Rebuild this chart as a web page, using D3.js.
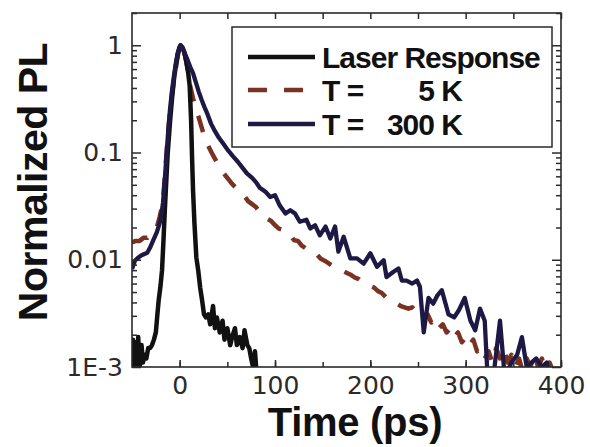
<!DOCTYPE html>
<html>
<head>
<meta charset="utf-8">
<script src="https://cdn.jsdelivr.net/npm/d3@7"></script>
<style>
  html, body { margin: 0; padding: 0; background: #fff; }
  svg { display: block; }
</style>
</head>
<body>
<svg id="chart" width="590" height="447"></svg>
<script>
// ---- tick labels ----
const xTickValues = [0, 100, 200, 300, 400];
const xMinorTicks = [0, 50, 100, 150, 200, 250, 300, 350, 400];
const yTickValues = [1, 0.1, 0.01, 0.001];
const yTickLabels = ["1", "0.1", "0.01", "1E-3"];

// ---- legend ----
const legendNames = ["Laser Response", "T =", "T ="];
const legendTemps = ["", "5 K", "300 K"];

// ---- laser response (instrument function) ----
const laserTime = [-50, -49, -48, -46.5, -45, -43.5, -42, -40, -38.5, -37, -35, -33, -31, -29, -27, -25,
  -23.5, -22, -20, -18.5, -17, -15.5, -14, -12.5, -10, -8, -6, -4, -2, 0, 1, 3, 5, 7, 9, 10.5, 12, 13,
  14, 15.5, 17.5, 19.5, 21.5, 23.5, 25.5, 27.5, 30, 32, 35, 37, 39, 42, 45, 47, 50, 53, 55, 58, 60,
  63, 66, 68, 71, 73, 75, 77, 79, 81];
const laserPL = [0.0009, 0.0018, 0.0009, 0.0017, 0.0009, 0.0019, 0.001, 0.0016, 0.0011, 0.0013, 0.0012,
  0.0015, 0.0015, 0.0016, 0.0018, 0.0021, 0.003, 0.0042, 0.0058, 0.008, 0.015, 0.03, 0.055, 0.1, 0.2,
  0.32, 0.48, 0.65, 0.83, 0.96, 1.0, 0.95, 0.85, 0.7, 0.55, 0.42, 0.2, 0.09, 0.045, 0.022, 0.0105,
  0.0079, 0.0055, 0.0042, 0.0031, 0.0029, 0.0031, 0.0025, 0.0037, 0.0023, 0.0029, 0.0021, 0.0027,
  0.0018, 0.0023, 0.0016, 0.0019, 0.0023, 0.0016, 0.0019, 0.0015, 0.0022, 0.0016, 0.0015, 0.0012,
  0.001, 0.0014, 0.0008];

// ---- T = 5 K ----
const lowTTime = [-50, -46, -42, -38, -34, -30, -27, -24, -21, -19, -17, -15, -12, -9, -6, -3, -1, 1, 3,
  6, 9, 11, 14, 19.5, 25, 30, 34, 40, 45, 50, 55, 60, 64, 68, 72, 76, 80, 84, 88, 92, 96, 100, 104,
  108, 112, 116, 120, 124, 128, 132, 136, 140, 144, 148, 152, 156, 160, 164, 168, 172, 176, 180, 184,
  188, 192, 196, 200, 204, 208, 212, 216, 220, 224, 228, 232, 236, 240, 244, 248, 252, 256, 260, 264,
  268, 272, 276, 280, 284, 288, 292, 296, 300, 304, 308, 312, 316, 320, 324, 328, 332, 336, 340, 344,
  348, 352, 356, 360, 364, 368, 372, 376, 380, 384, 388, 392];
const lowTPL = [0.0145, 0.015, 0.015, 0.016, 0.016, 0.0175, 0.019, 0.02, 0.025, 0.03, 0.04, 0.07, 0.16,
  0.3, 0.48, 0.7, 0.9, 1.0, 0.95, 0.78, 0.56, 0.42, 0.32, 0.22, 0.15, 0.115, 0.098, 0.078, 0.066, 0.058,
  0.051, 0.046, 0.041, 0.039, 0.035, 0.033, 0.031, 0.028, 0.027, 0.024, 0.023, 0.021, 0.0195, 0.019,
  0.0172, 0.017, 0.0152, 0.015, 0.0136, 0.0128, 0.0124, 0.0113, 0.0112, 0.0102, 0.0098, 0.0093, 0.0088,
  0.0086, 0.0081, 0.0078, 0.0075, 0.0072, 0.0068, 0.0066, 0.0062, 0.0061, 0.0057, 0.0055, 0.0051,
  0.0049, 0.0045, 0.0043, 0.004, 0.0039, 0.0037, 0.0036, 0.0035, 0.0036, 0.0033, 0.0033, 0.0028,
  0.0031, 0.0026, 0.0028, 0.0023, 0.0025, 0.0021, 0.0023, 0.0019, 0.0021, 0.0017, 0.0019, 0.0016,
  0.0018, 0.0014, 0.0015, 0.0012, 0.0014, 0.0011, 0.0015, 0.0012, 0.0015, 0.0011, 0.0013, 0.001,
  0.0012, 0.0009, 0.0012, 0.001, 0.0013, 0.001, 0.0012, 0.0009, 0.0011, 0.0009];

// ---- T = 300 K ----
const roomTTime = [-50, -47, -44, -40, -37, -34, -31, -28, -24, -21, -19, -17.5, -16, -14, -12, -10, -8,
  -6, -4, -2, 0, 1, 3, 5, 8, 11, 14, 17, 20, 23, 26, 29, 33, 37, 41, 46, 51, 56, 61, 66, 70.5, 76, 80,
  84, 90, 95, 100, 105, 111, 116, 121, 126, 133, 137, 142, 147, 153, 158, 163, 166.5, 172, 179, 186,
  193, 200, 207, 214, 217, 224, 229.5, 233, 238, 244, 249, 252, 256, 261, 266, 270, 275, 282, 288, 293,
  299, 305, 310, 315, 320, 323, 329, 336, 341, 348, 354, 359, 364, 369, 374, 380, 385, 388];
const roomTPL = [0.0082, 0.0098, 0.0104, 0.011, 0.0113, 0.0116, 0.013, 0.015, 0.018, 0.022, 0.027,
  0.034, 0.05, 0.09, 0.16, 0.26, 0.38, 0.52, 0.68, 0.85, 0.97, 1.0, 0.95, 0.86, 0.74, 0.63, 0.55, 0.45,
  0.37, 0.31, 0.265, 0.23, 0.185, 0.158, 0.138, 0.12, 0.104, 0.092, 0.082, 0.072, 0.064, 0.058, 0.053,
  0.047, 0.043, 0.0385, 0.040, 0.032, 0.027, 0.029, 0.027, 0.0226, 0.0236, 0.0196, 0.021, 0.0169,
  0.0204, 0.0158, 0.0204, 0.0119, 0.0164, 0.0103, 0.0103, 0.0092, 0.0115, 0.0086, 0.0099, 0.0069,
  0.0077, 0.0083, 0.0064, 0.0064, 0.006, 0.0064, 0.0056, 0.0021, 0.0044, 0.0039, 0.0046, 0.0052,
  0.0031, 0.0029, 0.0034, 0.0044, 0.0027, 0.0022, 0.0035, 0.0027, 0.0008, 0.0008, 0.0027, 0.0008,
  0.0011, 0.0013, 0.0019, 0.001, 0.0011, 0.0012, 0.001, 0.0011, 0.0008];

// legend order: laser, 5 K, 300 K; z sets the drawing order
const series = [
  { time: laserTime, pl: laserPL, color: "#111111", width: 4.5, dash: null, z: 1 },
  { time: lowTTime, pl: lowTPL, color: "#7a3222", width: 4.5, dash: "17,15", z: 0 },
  { time: roomTTime, pl: roomTPL, color: "#1d1944", width: 4.3, dash: null, z: 2 }
];

// ---- layout ----
const svg = d3.select("#chart");
const plot = { left: 132, right: 561, top: 13, bottom: 367 };

const x = d3.scaleLinear().domain([-50, 400]).range([plot.left, plot.right]);
const y = d3.scaleLog().domain([0.001, 2]).range([plot.bottom, plot.top]);

svg.append("defs").append("clipPath").attr("id", "plot-clip")
  .append("rect")
  .attr("x", plot.left).attr("y", plot.top)
  .attr("width", plot.right - plot.left).attr("height", plot.bottom - plot.top);

// curves
const line = d3.line()
  .x(d => x(d[0]))
  .y(d => y(d[1]));

const curves = svg.append("g").attr("clip-path", "url(#plot-clip)");
series.slice().sort((a, b) => a.z - b.z).forEach(s => {
  const pts = s.time.map((t, i) => [t, s.pl[i]]);
  curves.append("path")
    .datum(pts)
    .attr("d", line)
    .attr("fill", "none")
    .attr("stroke", s.color)
    .attr("stroke-width", s.width)
    .attr("stroke-linejoin", "round")
    .attr("stroke-dasharray", s.dash);
});

// minor log ticks
const yMinor = [];
[0.001, 0.01, 0.1, 1].forEach(dec => {
  for (let m = 2; m <= 9; m++) {
    const v = dec * m;
    if (v <= 2) yMinor.push(v);
  }
});

const axisColor = "#2a2a2a";
const tickFont = "'DejaVu Sans', sans-serif";

function styleAxis(g) {
  g.select(".domain").remove();
  g.selectAll(".tick line").attr("stroke", axisColor).attr("stroke-width", 1.5);
  g.selectAll(".tick text")
    .attr("fill", "#2a2a2a")
    .style("font-family", tickFont)
    .style("font-size", "25px");
}

// bottom axis
svg.append("g").attr("transform", `translate(0,${plot.bottom})`)
  .call(d3.axisBottom(x).tickValues(xMinorTicks).tickSize(-5).tickFormat(""))
  .call(styleAxis);
svg.append("g").attr("transform", `translate(0,${plot.bottom})`)
  .call(d3.axisBottom(x).tickValues(xTickValues).tickSize(-7).tickPadding(9).tickFormat(d3.format("d")))
  .call(styleAxis);

// top axis
svg.append("g").attr("transform", `translate(0,${plot.top})`)
  .call(d3.axisTop(x).tickValues(xMinorTicks).tickSize(-6).tickFormat(""))
  .call(styleAxis);

// left axis
svg.append("g").attr("transform", `translate(${plot.left},0)`)
  .call(d3.axisLeft(y).tickValues(yMinor).tickSize(-5).tickFormat(""))
  .call(styleAxis);
svg.append("g").attr("transform", `translate(${plot.left},0)`)
  .call(d3.axisLeft(y).tickValues(yTickValues).tickSize(-9).tickPadding(9)
    .tickFormat((d, i) => yTickLabels[i]))
  .call(styleAxis);

// right axis
svg.append("g").attr("transform", `translate(${plot.right},0)`)
  .call(d3.axisRight(y).tickValues(yMinor).tickSize(-5).tickFormat(""))
  .call(styleAxis);
svg.append("g").attr("transform", `translate(${plot.right},0)`)
  .call(d3.axisRight(y).tickValues(yTickValues).tickSize(-9).tickFormat(""))
  .call(styleAxis);

// frame
svg.append("rect")
  .attr("x", plot.left).attr("y", plot.top)
  .attr("width", plot.right - plot.left).attr("height", plot.bottom - plot.top)
  .attr("fill", "none").attr("stroke", axisColor).attr("stroke-width", 1.6);

// axis titles
const titleFont = "'Liberation Sans', Arial, sans-serif";
svg.append("text")
  .attr("x", 355).attr("y", 436)
  .attr("text-anchor", "middle")
  .style("font-family", titleFont).style("font-weight", "bold").style("font-size", "40px")
  .style("letter-spacing", "-0.3px")
  .attr("fill", "#111")
  .text("Time (ps)");

svg.append("text")
  .attr("transform", "translate(47,182) rotate(-90)")
  .attr("text-anchor", "middle")
  .style("font-family", titleFont).style("font-weight", "bold").style("font-size", "41px")
  .style("letter-spacing", "-0.5px")
  .attr("fill", "#111")
  .text("Normalized PL");

// legend
const legend = svg.append("g");
legend.append("rect")
  .attr("x", 232).attr("y", 27).attr("width", 320).attr("height", 120)
  .attr("fill", "#fff").attr("stroke", axisColor).attr("stroke-width", 1.5);

const legendRows = [57, 90, 124];
series.forEach((s, i) => {
  legend.append("line")
    .attr("x1", 248).attr("x2", 315)
    .attr("y1", legendRows[i]).attr("y2", legendRows[i])
    .attr("stroke", s.color).attr("stroke-width", s.width)
    .attr("stroke-dasharray", s.dash ? "19,17" : null);
  legend.append("text")
    .attr("x", 322).attr("y", legendRows[i] + 11)
    .style("font-family", titleFont).style("font-weight", "bold").style("font-size", "30px")
    .style("letter-spacing", "-1px")
    .attr("fill", "#111")
    .text(legendNames[i]);
  if (legendTemps[i]) {
    legend.append("text")
      .attr("x", 462).attr("y", legendRows[i] + 11)
      .attr("text-anchor", "end")
      .style("font-family", titleFont).style("font-weight", "bold").style("font-size", "30px")
      .style("letter-spacing", "-1px")
      .attr("fill", "#111")
      .text(legendTemps[i]);
  }
});
</script>
</body>
</html>
